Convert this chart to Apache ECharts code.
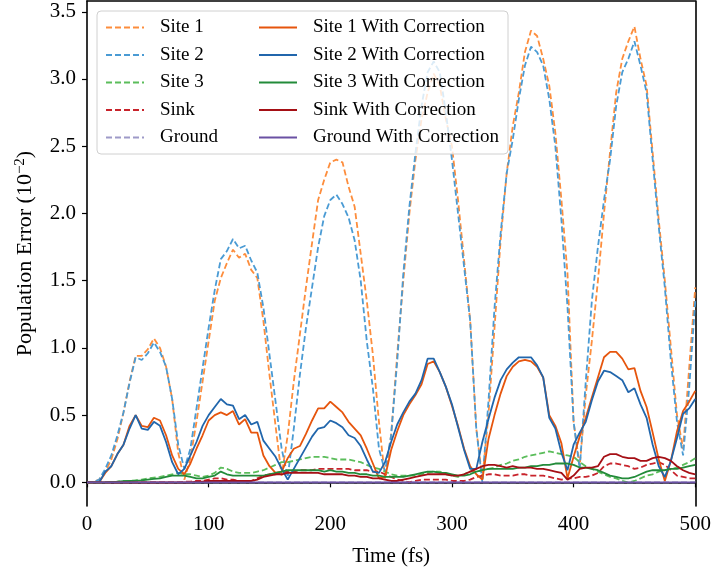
<!DOCTYPE html>
<html>
<head>
<meta charset="utf-8">
<script src="https://cdn.jsdelivr.net/npm/echarts@6/dist/echarts.min.js"></script>
<style>
  html, body { margin: 0; padding: 0; background: #fff; }
  #chart { width: 714px; height: 575px; }
</style>
</head>
<body>
<div id="chart"></div>
<script>
// time grid (fs), sampled every 5 fs
const times = [0, 5, 10, 15, 20, 25, 30, 35, 40, 45, 50, 55, 60, 65, 70, 75, 80, 85, 90, 95,
  100, 105, 110, 115, 120, 125, 130, 135, 140, 145, 150, 155, 160, 165, 170, 175, 180, 185, 190, 195,
  200, 205, 210, 215, 220, 225, 230, 235, 240, 245, 250, 255, 260, 265, 270, 275, 280, 285, 290, 295,
  300, 305, 310, 315, 320, 325, 330, 335, 340, 345, 350, 355, 360, 365, 370, 375, 380, 385, 390, 395,
  400, 405, 410, 415, 420, 425, 430, 435, 440, 445, 450, 455, 460, 465, 470, 475, 480, 485, 490, 495, 500];

const site1 = [0, 0, 0.02, 0.08, 0.17, 0.32, 0.52, 0.75, 0.94, 0.94, 0.99, 1.07, 1.0, 0.86, 0.62, 0.22, 0.02, 0.18, 0.45, 0.75,
  1.05, 1.35, 1.52, 1.63, 1.73, 1.67, 1.70, 1.58, 1.52, 1.2, 0.8, 0.42, 0.05, 0.35, 0.75, 1.1, 1.45, 1.78, 2.1, 2.25,
  2.38, 2.40, 2.38, 2.2, 2.05, 1.7, 1.35, 0.95, 0.45, 0.03, 0.35, 0.95, 1.5, 2.0, 2.4, 2.7, 2.9, 3.04, 2.95, 2.7,
  2.5, 2.1, 1.65, 1.2, 0.4, 0.03, 0.5, 1.15, 1.8, 2.3, 2.65, 2.9, 3.2, 3.36, 3.32, 3.15, 2.95, 2.6, 2.1, 1.55,
  0.45, 0.12, 0.65, 1.05, 1.5, 2.0, 2.46, 2.9, 3.15, 3.28, 3.39, 3.15, 2.95, 2.45, 1.95, 1.5, 1.0, 0.5, 0.25, 0.85, 1.45];

const site2 = [0, 0, 0.02, 0.1, 0.2, 0.35, 0.52, 0.74, 0.93, 0.91, 0.96, 1.04, 0.97, 0.86, 0.62, 0.28, 0.1, 0.25, 0.55, 0.85,
  1.15, 1.43, 1.66, 1.72, 1.81, 1.74, 1.76, 1.65, 1.56, 1.3, 0.95, 0.6, 0.25, 0.04, 0.4, 0.8, 1.15, 1.45, 1.75, 1.98,
  2.1, 2.14, 2.07, 1.97, 1.8, 1.5, 1.05, 0.7, 0.25, 0.08, 0.35, 0.9, 1.55, 2.05, 2.45, 2.8, 3.05, 3.13, 3.05, 2.75,
  2.4, 2.0, 1.6, 1.2, 0.4, 0.0, 0.6, 1.3, 1.85, 2.3, 2.55, 2.85, 3.1, 3.24, 3.2, 3.1, 2.85, 2.5, 1.95, 1.3,
  0.45, 0.1, 0.75, 1.35, 1.75, 2.1, 2.4, 2.8, 3.05, 3.15, 3.28, 3.1, 2.9, 2.4, 1.9, 1.45, 0.9, 0.45, 0.2, 0.7, 1.35];

const site3 = [0, 0, 0, 0, 0, 0.005, 0.01, 0.01, 0.015, 0.02, 0.03, 0.035, 0.04, 0.05, 0.06, 0.07, 0.06, 0.06, 0.05, 0.04,
  0.05, 0.07, 0.11, 0.1, 0.08, 0.07, 0.07, 0.07, 0.08, 0.09, 0.11, 0.13, 0.15, 0.15, 0.16, 0.17, 0.18, 0.19, 0.19, 0.19,
  0.18, 0.17, 0.17, 0.17, 0.16, 0.15, 0.13, 0.11, 0.1, 0.08, 0.06, 0.05, 0.05, 0.05, 0.05, 0.06, 0.07, 0.08, 0.08, 0.06,
  0.05, 0.04, 0.06, 0.08, 0.08, 0.09, 0.1, 0.11, 0.13, 0.14, 0.16, 0.17, 0.19, 0.2, 0.21, 0.22, 0.23, 0.22, 0.21, 0.2,
  0.19, 0.15, 0.12, 0.1, 0.08, 0.06, 0.04, 0.03, 0.01, 0.0, 0.01, 0.03, 0.05, 0.06, 0.08, 0.09, 0.1, 0.11, 0.13, 0.15, 0.18];

const sink = [0, 0, 0, 0, 0, 0, 0, 0, 0, 0, 0, 0, 0, 0, 0, 0, 0.005, 0.005, 0.01, 0.01,
  0.02, 0.03, 0.03, 0.02, 0.02, 0.01, 0.01, 0.01, 0.03, 0.05, 0.06, 0.06, 0.07, 0.08, 0.08, 0.09, 0.09, 0.09, 0.1, 0.1,
  0.1, 0.1, 0.1, 0.1, 0.09, 0.09, 0.09, 0.08, 0.08, 0.06, 0.04, 0.02, 0.01, 0.0, 0.01, 0.02, 0.02, 0.02, 0.02, 0.02,
  0.01, 0.01, 0.01, 0.02, 0.04, 0.05, 0.06, 0.06, 0.05, 0.05, 0.05, 0.06, 0.06, 0.05, 0.05, 0.05, 0.04, 0.03, 0.02, 0.03,
  0.03, 0.04, 0.04, 0.05, 0.07, 0.12, 0.14, 0.14, 0.13, 0.12, 0.1, 0.11, 0.13, 0.14, 0.15, 0.13, 0.09, 0.05, 0.04, 0.03, 0.03];

const ground = [0, 0, 0, 0, 0, 0, 0, 0, 0, 0, 0, 0, 0, 0, 0, 0, 0, 0, 0, 0,
  0, 0, 0, 0, 0, 0, 0, 0, 0, 0, 0, 0, 0, 0, 0, 0, 0, 0, 0, 0,
  0, 0, 0, 0, 0, 0, 0, 0, 0, 0, 0, 0, 0, 0, 0, 0, 0, 0, 0, 0,
  0, 0, 0, 0, 0, 0, 0, 0, 0, 0, 0, 0, 0, 0, 0, 0, 0, 0, 0, 0,
  0, 0, 0, 0, 0, 0, 0, 0, 0, 0, 0, 0, 0, 0, 0, 0, 0, 0, 0, 0, 0];

const site1Corr = [0, 0, 0, 0.07, 0.12, 0.21, 0.28, 0.42, 0.5, 0.42, 0.41, 0.48, 0.46, 0.35, 0.2, 0.1, 0.06, 0.14, 0.25, 0.35,
  0.46, 0.5, 0.52, 0.5, 0.53, 0.43, 0.47, 0.37, 0.37, 0.2, 0.12, 0.07, 0.08, 0.18, 0.25, 0.27, 0.36, 0.46, 0.55, 0.55,
  0.6, 0.56, 0.52, 0.45, 0.4, 0.35, 0.25, 0.14, 0.03, 0.04, 0.24, 0.38, 0.5, 0.58, 0.65, 0.73, 0.88, 0.9, 0.82, 0.71,
  0.57, 0.42, 0.25, 0.12, 0.06, 0.02, 0.32, 0.5, 0.66, 0.79, 0.86, 0.9, 0.91, 0.9, 0.86, 0.78, 0.5, 0.42, 0.29, 0.03,
  0.19, 0.34, 0.48, 0.63, 0.78, 0.93, 0.97, 0.97, 0.92, 0.84, 0.85, 0.68, 0.56, 0.37, 0.17, 0.01, 0.16, 0.38, 0.53, 0.6, 0.68];

const site2Corr = [0, 0, 0, 0.08, 0.12, 0.21, 0.28, 0.4, 0.5, 0.4, 0.39, 0.45, 0.42, 0.3, 0.15, 0.06, 0.1, 0.2, 0.3, 0.42,
  0.5, 0.56, 0.62, 0.58, 0.57, 0.47, 0.5, 0.43, 0.45, 0.31, 0.25, 0.19, 0.1, 0.02, 0.1, 0.18, 0.26, 0.34, 0.4, 0.41,
  0.46, 0.44, 0.41, 0.35, 0.33, 0.27, 0.17, 0.08, 0.07, 0.15, 0.3, 0.43, 0.52, 0.6, 0.66, 0.76, 0.92, 0.92, 0.82, 0.71,
  0.58, 0.41, 0.24, 0.1, 0.1, 0.3, 0.47, 0.63, 0.76, 0.84, 0.89, 0.93, 0.93, 0.93, 0.87, 0.78, 0.48, 0.4, 0.22, 0.09,
  0.28, 0.37, 0.45, 0.61, 0.75, 0.83, 0.82, 0.79, 0.76, 0.67, 0.7, 0.58, 0.48, 0.28, 0.12, 0.04, 0.16, 0.33, 0.51, 0.55, 0.62];

const site3Corr = [0, 0, 0, 0, 0.003, 0.005, 0.008, 0.01, 0.012, 0.015, 0.02, 0.025, 0.03, 0.04, 0.05, 0.05, 0.05, 0.04, 0.03, 0.03,
  0.04, 0.05, 0.08, 0.06, 0.05, 0.05, 0.05, 0.05, 0.05, 0.05, 0.06, 0.07, 0.08, 0.09, 0.09, 0.09, 0.09, 0.09, 0.09, 0.08,
  0.09, 0.08, 0.08, 0.07, 0.07, 0.06, 0.06, 0.05, 0.05, 0.04, 0.04, 0.04, 0.04, 0.05, 0.06, 0.07, 0.08, 0.08, 0.07, 0.07,
  0.06, 0.05, 0.05, 0.06, 0.08, 0.09, 0.1, 0.1, 0.1, 0.1, 0.1, 0.11, 0.11, 0.12, 0.12, 0.13, 0.13, 0.14, 0.14, 0.14,
  0.13, 0.11, 0.11, 0.1, 0.09, 0.07, 0.05, 0.04, 0.03, 0.03, 0.04, 0.06, 0.08, 0.09, 0.09, 0.09, 0.1, 0.1, 0.11, 0.12, 0.13];

const sinkCorr = [0, 0, 0, 0, 0, 0, 0, 0, 0, 0, 0, 0, 0, 0, 0, 0, 0, 0, 0.005, 0.005,
  0.01, 0.01, 0.01, 0.01, 0.01, 0.01, 0.01, 0.01, 0.02, 0.04, 0.05, 0.06, 0.06, 0.07, 0.07, 0.07, 0.07, 0.07, 0.07, 0.06,
  0.06, 0.06, 0.06, 0.05, 0.05, 0.04, 0.04, 0.03, 0.03, 0.02, 0.01, 0.01, 0.02, 0.03, 0.04, 0.05, 0.06, 0.06, 0.06, 0.06,
  0.05, 0.05, 0.06, 0.08, 0.1, 0.12, 0.13, 0.13, 0.12, 0.11, 0.12, 0.11, 0.11, 0.11, 0.1, 0.1, 0.09, 0.08, 0.07, 0.02,
  0.05, 0.1, 0.11, 0.11, 0.12, 0.19, 0.21, 0.21, 0.19, 0.18, 0.18, 0.16, 0.16, 0.18, 0.19, 0.18, 0.16, 0.12, 0.09, 0.07, 0.06];

const groundCorr = ground;

const yTicks = [0, 0.5, 1.0, 1.5, 2.0, 2.5, 3.0, 3.5];

const FONT = 'Liberation Serif';

const seriesDefs = [
  { name: 'Site 1', data: site1, color: '#fd8d3c', dashed: true },
  { name: 'Site 2', data: site2, color: '#4a9bd4', dashed: true },
  { name: 'Site 3', data: site3, color: '#5bbd5b', dashed: true },
  { name: 'Sink', data: sink, color: '#c8232b', dashed: true },
  { name: 'Ground', data: ground, color: '#9e9ac8', dashed: true },
  { name: 'Site 1 With Correction', data: site1Corr, color: '#e6550d', dashed: false },
  { name: 'Site 2 With Correction', data: site2Corr, color: '#2166ac', dashed: false },
  { name: 'Site 3 With Correction', data: site3Corr, color: '#238b3a', dashed: false },
  { name: 'Sink With Correction', data: sinkCorr, color: '#a50f15', dashed: false },
  { name: 'Ground With Correction', data: groundCorr, color: '#6a51a3', dashed: false }
];

const series = seriesDefs.map(d => ({
  name: d.name,
  type: 'line',
  symbol: 'none',
  animation: false,
  z: d.dashed ? 2 : 3,
  color: d.color,
  lineStyle: { width: 1.8, color: d.color, type: d.dashed ? [6, 3] : 'solid' },
  data: times.map((t, i) => [t, d.data[i]])
}));

function legendBlock(names, left) {
  return {
    orient: 'vertical',
    left: left,
    top: 17.5,
    padding: 0,
    itemWidth: 38,
    itemHeight: 14,
    itemGap: 7.5,
    data: names,
    itemStyle: { opacity: 0 },
    textStyle: { fontFamily: FONT, fontSize: 19, lineHeight: 20, color: '#000', padding: [0, 0, 0, 11] }
  };
}

const chart = echarts.init(document.getElementById('chart'), null, { renderer: 'canvas' });

chart.setOption({
  animation: false,
  backgroundColor: '#fff',
  grid: { left: 87, right: 17, top: 1, bottom: 69, containLabel: false },
  graphic: [{
    type: 'rect',
    shape: { x: 97, y: 11, width: 411, height: 143, r: 4 },
    style: { fill: 'rgba(255,255,255,0.8)', stroke: '#d0d0d0', lineWidth: 1 },
    z: 3
  }],
  legend: [
    legendBlock(seriesDefs.slice(0, 5).map(d => d.name), 105),
    legendBlock(seriesDefs.slice(5).map(d => d.name), 258)
  ],
  xAxis: [{
    type: 'value',
    min: 0,
    max: 500,
    interval: 100,
    name: 'Time (fs)',
    nameLocation: 'middle',
    nameGap: 40,
    nameTextStyle: { fontFamily: FONT, fontSize: 21, color: '#000' },
    axisLine: { lineStyle: { color: '#000', width: 1.6 } },
    axisTick: { length: 5, lineStyle: { color: '#000', width: 1.2 } },
    axisLabel: { fontFamily: FONT, fontSize: 21, color: '#000', margin: 8 },
    splitLine: { show: false }
  }, {
    type: 'value',
    position: 'top',
    min: 0,
    max: 500,
    axisLine: { show: true, onZero: false, lineStyle: { color: '#000', width: 1.6 } },
    axisTick: { show: false },
    axisLabel: { show: false },
    splitLine: { show: false }
  }],
  yAxis: [{
    type: 'value',
    min: -0.176,
    max: 3.58,
    name: 'Population Error (10{sup|−2})',
    nameLocation: 'middle',
    nameGap: 49,
    nameTextStyle: {
      fontFamily: FONT, fontSize: 22, color: '#000',
      rich: { sup: { fontFamily: FONT, fontSize: 15, color: '#000', padding: [0, 0, 10, 0] } }
    },
    axisLine: { show: true, onZero: false, lineStyle: { color: '#000', width: 1.6 } },
    axisTick: { show: true, length: 5, customValues: yTicks, lineStyle: { color: '#000', width: 1.2 } },
    axisLabel: {
      fontFamily: FONT, fontSize: 21, color: '#000', margin: 11,
      customValues: yTicks,
      formatter: v => v.toFixed(1)
    },
    splitLine: { show: false }
  }, {
    type: 'value',
    position: 'right',
    min: -0.176,
    max: 3.58,
    axisLine: { show: true, onZero: false, lineStyle: { color: '#000', width: 1.6 } },
    axisTick: { show: false },
    axisLabel: { show: false },
    splitLine: { show: false }
  }],
  series: series
});
</script>
</body>
</html>
